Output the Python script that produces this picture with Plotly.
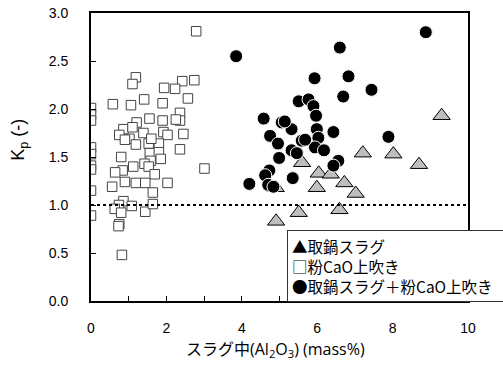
import plotly.graph_objects as go

# 取鍋スラグ (triangles)
tri_x = [9.30, 7.21, 8.02, 8.70, 5.60, 6.04, 6.36, 6.72, 5.99, 7.02, 4.90, 6.59, 5.51, 4.91]
tri_y = [1.93, 1.54, 1.53, 1.42, 1.44, 1.33, 1.32, 1.23, 1.18, 1.12, 1.18, 0.95, 0.92, 0.83]

# 粉CaO上吹き (squares)
sq_x = [2.79, 1.19, 1.10, 2.42, 2.74, 1.94, 2.23, 2.57, 1.41, 0.58, 1.06, 1.90, 0.0, 0.0, 0.0,
        2.36, 2.36, 2.25, 1.55, 1.90, 1.21, 0.86, 1.10, 0.75, 1.39, 1.92, 2.03, 2.45, 1.02, 0.90,
        1.19, 1.53, 1.80, 1.60, 0.0, 0.0, 2.36, 1.56, 1.80, 0.80, 1.85, 1.58, 0.0, 0.0, 1.42,
        1.12, 1.53, 0.84, 0.64, 1.69, 3.01, 0.56, 0.0, 0.90, 1.19, 1.44, 2.03, 1.64, 0.86, 0.74,
        0.63, 1.08, 0.80, 1.44, 1.64, 0.0, 0.75, 0.73, 0.82]
sq_y = [2.81, 2.33, 2.26, 2.29, 2.30, 2.22, 2.21, 2.11, 2.10, 2.05, 2.04, 2.06, 2.01, 1.94, 1.88,
        1.96, 1.88, 1.89, 1.90, 1.88, 1.86, 1.79, 1.81, 1.73, 1.75, 1.76, 1.73, 1.74, 1.69, 1.68,
        1.63, 1.64, 1.64, 1.69, 1.60, 1.53, 1.58, 1.54, 1.55, 1.50, 1.48, 1.46, 1.41, 1.37, 1.43,
        1.40, 1.40, 1.36, 1.34, 1.32, 1.38, 1.19, 1.15, 1.24, 1.23, 1.23, 1.23, 1.13, 1.04, 1.00,
        0.96, 0.99, 0.92, 0.93, 1.01, 0.89, 0.80, 0.78, 0.48]

# 取鍋スラグ＋粉CaO上吹き (circles)
ci_x = [3.85, 8.88, 6.60, 5.93, 6.83, 7.44, 6.69, 5.51, 5.77, 5.90, 5.97, 4.58, 5.06, 5.32, 5.99,
        6.43, 4.75, 6.03, 5.59, 4.96, 7.89, 5.94, 6.18, 5.32, 5.46, 4.99, 6.56, 6.43, 4.73, 4.62,
        5.35, 4.20, 4.70, 4.84, 5.14, 5.68]
ci_y = [2.55, 2.80, 2.64, 2.32, 2.34, 2.20, 2.13, 2.08, 2.10, 2.03, 1.93, 1.90, 1.86, 1.79, 1.79,
        1.76, 1.72, 1.70, 1.67, 1.64, 1.71, 1.60, 1.57, 1.57, 1.54, 1.49, 1.46, 1.41, 1.36, 1.31,
        1.28, 1.22, 1.21, 1.19, 1.87, 1.68]

x_ticks = [0, 1, 2, 3, 4, 5, 6, 7, 8, 9, 10]
x_tick_text = ["0", "", "2", "", "4", "", "6", "", "8", "", "10"]
y_ticks = [0.0, 0.5, 1.0, 1.5, 2.0, 2.5, 3.0]
y_tick_text = ["0.0", "0.5", "1.0", "1.5", "2.0", "2.5", "3.0"]
legend_lines = ["▲取鍋スラグ", "□粉CaO上吹き", "●取鍋スラグ＋粉CaO上吹き"]

fig = go.Figure()
fig.add_trace(go.Scatter(x=tri_x, y=tri_y, mode="markers",
                         marker=dict(symbol="triangle-up", size=15, color="#BEBEBE",
                                     line=dict(color="black", width=1))))
fig.add_trace(go.Scatter(x=sq_x, y=sq_y, mode="markers",
                         marker=dict(symbol="square", size=9.5, color="white",
                                     line=dict(color="#444444", width=1))))
fig.add_trace(go.Scatter(x=ci_x, y=ci_y, mode="markers",
                         marker=dict(symbol="circle", size=13, color="black",
                                     line=dict(color="white", width=1))))

fig.add_shape(type="line", x0=0, x1=10, y0=1.0, y1=1.0, xref="x", yref="y",
              line=dict(color="black", width=2, dash="dot"))

tick_font = dict(family="Liberation Sans, Arial, sans-serif", size=14, color="black")
fig.update_xaxes(range=[0, 10], tickvals=x_ticks, ticktext=x_tick_text, ticks="inside",
                 ticklen=5, tickwidth=1, tickcolor="black", showline=True, linecolor="black",
                 linewidth=2, mirror=True, showgrid=False, zeroline=False, tickfont=tick_font,
                 ticklabelstandoff=13, automargin=False)
fig.update_yaxes(range=[0, 3.0], tickvals=y_ticks, ticktext=y_tick_text, ticks="inside",
                 ticklen=5, tickwidth=1, tickcolor="black", showline=True, linecolor="black",
                 linewidth=2, mirror=True, showgrid=False, zeroline=False, tickfont=tick_font,
                 ticklabelstandoff=18, automargin=False)

fig.add_annotation(text="スラグ中(Al<sub>2</sub>O<sub>3</sub>) (mass%)", xref="paper", yref="paper",
                   x=0.49, y=-0.17, xanchor="center", yanchor="middle", showarrow=False,
                   font=dict(family="Open Sans, Noto Sans CJK JP, sans-serif", size=16, color="black"))
fig.add_annotation(text="K<sub>p</sub> (-)", xref="paper", yref="paper",
                   x=-0.188, y=0.56, xanchor="center", yanchor="middle", textangle=-90,
                   showarrow=False,
                   font=dict(family="Liberation Sans, Arial, sans-serif", size=18, color="black"))
fig.add_annotation(text="<br>".join(legend_lines), xref="paper", yref="paper",
                   x=(287 - 91) / 377, y=(301 - 230) / 287, xanchor="left", yanchor="top",
                   align="left", showarrow=False, bgcolor="white", bordercolor="#333333",
                   borderwidth=1, borderpad=4, width=208,
                   font=dict(family="Noto Sans CJK JP, sans-serif", size=15.5, color="black"))

fig.update_layout(width=503, height=367, margin=dict(l=91, r=35, t=13, b=66),
                  paper_bgcolor="white", plot_bgcolor="white", showlegend=False)

# remove the default 8px body margin so the figure fills the window exactly
fig.write_html("out.html", config={"displayModeBar": False},
               post_script="document.body.style.margin='0';")
